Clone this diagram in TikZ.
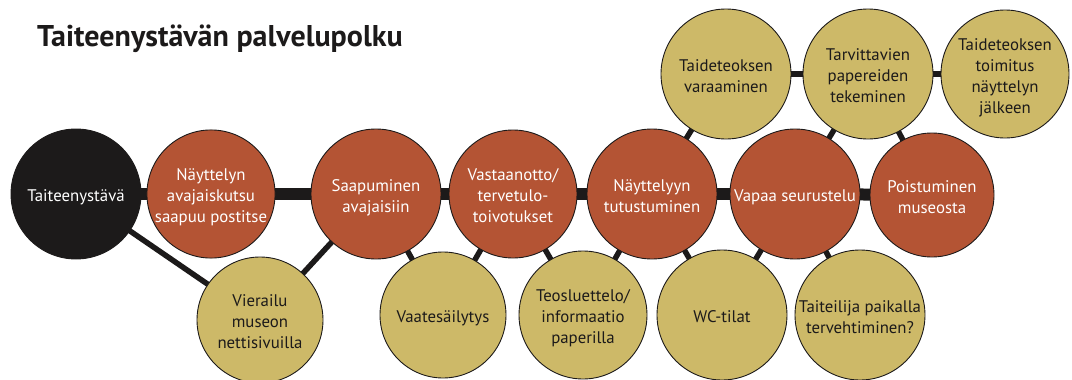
\documentclass[tikz,border=0pt]{standalone}
\usepackage{fontspec}
\setmainfont{PT Sans}
\usetikzlibrary{backgrounds}
\definecolor{stepred}{HTML}{B45434}
\definecolor{stepgold}{HTML}{CDB968}
\definecolor{ink}{HTML}{1C1A1A}
% centred lines, set a little below the optical centre of the disc
\newcommand\disclines[1]{\raisebox{-3.5pt}[\height][\depth]{%
  \begin{tabular}{@{}c@{}}#1\end{tabular}}}
\begin{document}
\begin{tikzpicture}[x=1pt,y=-1pt,
  disc/.style={circle, draw=ink, line width=0.9pt, inner sep=0pt,
    minimum size=#1, font=\fontsize{16.8}{21}\selectfont},
  startdisc/.style={disc=#1, fill=ink, text=white},
  reddisc/.style={disc=#1, fill=stepred, text=white},
  golddisc/.style={disc=#1, fill=stepgold, text=ink},
  mainbar/.style={draw=ink, line width=12pt},
  sidebar/.style={draw=ink, line width=5.5pt}]
\useasboundingbox (0,0) rectangle (1072,380);

% title
\node[anchor=base west, inner sep=0pt, text=ink,
      font=\fontsize{30}{33}\selectfont\bfseries] (title) at (37,46)
  {Taiteenystävän palvelupolku};

% main path
\node[startdisc=130] (start) at (76,194) {\disclines{Taiteenystävä}};
\node[reddisc=124] (invite) at (211,194) {\disclines{Näyttelyn\\avajaiskutsu\\saapuu postitse}};
\node[reddisc=130] (arrive) at (376,194) {\disclines{Saapuminen\\avajaisiin}};
\node[reddisc=128] (welcome) at (513,194) {\disclines{Vastaanotto/\\tervetulo-\\toivotukset}};
\node[reddisc=130] (visit) at (652,194) {\disclines{Näyttelyyn\\tutustuminen}};
\node[reddisc=130] (mingle) at (795,194) {\disclines{Vapaa seurustelu}};
\node[reddisc=124] (leave) at (932,195) {\disclines{Poistuminen\\museosta}};

% upper branch
\node[golddisc=130] (reserve) at (726,74) {\disclines{Taideteoksen\\varaaminen}};
\node[golddisc=130] (papers) at (868,74) {\disclines{Tarvittavien\\papereiden\\tekeminen}};
\node[golddisc=128] (deliver) at (1005,74) {\disclines{Taideteoksen\\toimitus\\näyttelyn\\jälkeen}};

% lower branch
\node[golddisc=126] (web) at (260,320) {\disclines{Vierailu\\museon\\nettisivuilla}};
\node[golddisc=126] (cloak) at (443,315) {\disclines{Vaatesäilytys}};
\node[golddisc=128] (catalog) at (583,315) {\disclines{Teosluettelo/\\informaatio\\paperilla}};
\node[golddisc=130] (wc) at (722,315) {\disclines{WC-tilat}};
\node[golddisc=130] (artist) at (860,315) {\disclines{Taiteilija paikalla\\tervehtiminen?}};

\begin{scope}[on background layer]
  \foreach \a/\b in {start/invite, invite/arrive, arrive/welcome,
                     welcome/visit, visit/mingle, mingle/leave}
    \draw[mainbar] (\a.center) -- (\b.center);
  \foreach \a/\b in {start/web, arrive/web, arrive/cloak, welcome/cloak,
                     welcome/catalog, visit/catalog, visit/wc, mingle/wc,
                     mingle/artist, visit/reserve, mingle/papers, leave/papers,
                     reserve/papers, papers/deliver}
    \draw[sidebar] (\a.center) -- (\b.center);
\end{scope}
\end{tikzpicture}
\end{document}
